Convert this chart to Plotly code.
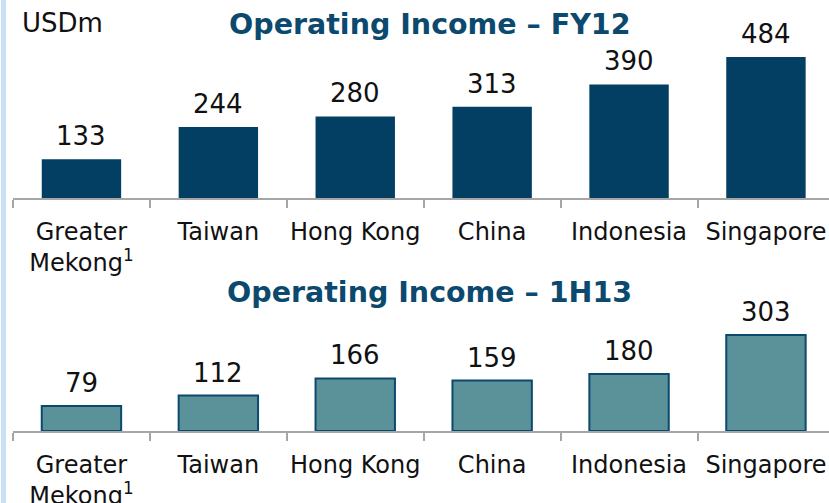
import plotly.graph_objects as go

# ---- data ----
categories = ["Greater<br>Mekong<sup>1</sup>", "Taiwan", "Hong Kong", "China", "Indonesia", "Singapore"]
fy12_values = [133, 244, 280, 313, 390, 484]
h113_values = [79, 112, 166, 159, 180, 303]
title_top = "Operating Income – FY12"
title_bottom = "Operating Income – 1H13"
unit_label = "USDm"

W, H = 829, 503
ML, MR, MT, MB = 13, 0, 0, 72
plot_h = H - MT - MB  # 431

def py(pix):  # pixel y -> paper y
    return (H - MB - pix) / plot_h

top_axis_px = 198
bot_axis_px = 431
top_scale = (198 - 57) / 484.0
bot_scale = (431 - 335) / 303.0
top_dom_top = 0
bot_dom_top = 250

dark = "#023f62"
teal = "#5b9299"
navy_title = "#0b4a6e"
font_family = "DejaVu Sans, Verdana, sans-serif"

fig = go.Figure()
fig.add_trace(go.Bar(x=categories, y=fy12_values, marker=dict(color=dark, line=dict(width=0)),
                     width=0.58, xaxis="x", yaxis="y", hoverinfo="skip"))
fig.add_trace(go.Bar(x=categories, y=h113_values, marker=dict(color=teal, line=dict(color=navy_title, width=2)),
                     width=0.58, xaxis="x2", yaxis="y2", hoverinfo="skip"))

cat_px = 136.9
plot_w = W - ML - MR
xr = [-0.5, -0.5 + plot_w / cat_px]

axis_common = dict(
    type="category", range=xr, showgrid=False, zeroline=False,
    showline=True, linecolor="#a6a6a6", linewidth=2,
    ticks="outside", ticklen=8, tickcolor="#a6a6a6", tickwidth=2,
    tickson="boundaries", tickfont=dict(family=font_family, size=24, color="#111111"),
    tickangle=0, ticklabelstandoff=11, automargin=False,
    fixedrange=True,
)

fig.update_layout(
    width=W, height=H,
    margin=dict(l=ML, r=MR, t=MT, b=MB),
    paper_bgcolor="white", plot_bgcolor="white",
    showlegend=False, bargap=0.42,
    xaxis=dict(domain=[0, 1], anchor="y", **axis_common),
    xaxis2=dict(domain=[0, 1], anchor="y2", **axis_common),
    yaxis=dict(domain=[py(top_axis_px), py(top_dom_top)], range=[0, (top_axis_px - top_dom_top) / top_scale],
               visible=False, fixedrange=True),
    yaxis2=dict(domain=[py(bot_axis_px), py(bot_dom_top)], range=[0, (bot_axis_px - bot_dom_top) / bot_scale],
                visible=False, fixedrange=True),
)

annotations = []
for c, v in zip(categories, fy12_values):
    annotations.append(dict(x=c, y=v, xref="x", yref="y", text=str(v), showarrow=False,
                            yanchor="bottom", yshift=6,
                            font=dict(family=font_family, size=26, color="#111111")))
for c, v in zip(categories, h113_values):
    annotations.append(dict(x=c, y=v, xref="x2", yref="y2", text=str(v), showarrow=False,
                            yanchor="bottom", yshift=6,
                            font=dict(family=font_family, size=26, color="#111111")))
annotations.append(dict(x=(430 - ML) / plot_w, y=py(24), xref="paper", yref="paper", text="<b>" + title_top + "</b>",
                        showarrow=False, xanchor="center", yanchor="middle",
                        font=dict(family=font_family, size=28.5, color=navy_title)))
annotations.append(dict(x=(430 - ML) / plot_w, y=py(292), xref="paper", yref="paper", text="<b>" + title_bottom + "</b>",
                        showarrow=False, xanchor="center", yanchor="middle",
                        font=dict(family=font_family, size=28.5, color=navy_title)))
annotations.append(dict(x=(20 - ML) / plot_w, y=py(23), xref="paper", yref="paper", text=unit_label,
                        showarrow=False, xanchor="left", yanchor="middle",
                        font=dict(family=font_family, size=26, color="#111111")))
fig.update_layout(annotations=annotations)

fig.add_shape(type="line", xref="paper", yref="paper",
              x0=(3.5 - ML) / plot_w, x1=(3.5 - ML) / plot_w, y0=py(H), y1=py(0),
              line=dict(color="#c9e0f0", width=5))

fig.write_html("out.html", config={"displayModeBar": False, "staticPlot": True},
               post_script="document.body.style.margin='0';document.body.style.overflow='hidden';")
